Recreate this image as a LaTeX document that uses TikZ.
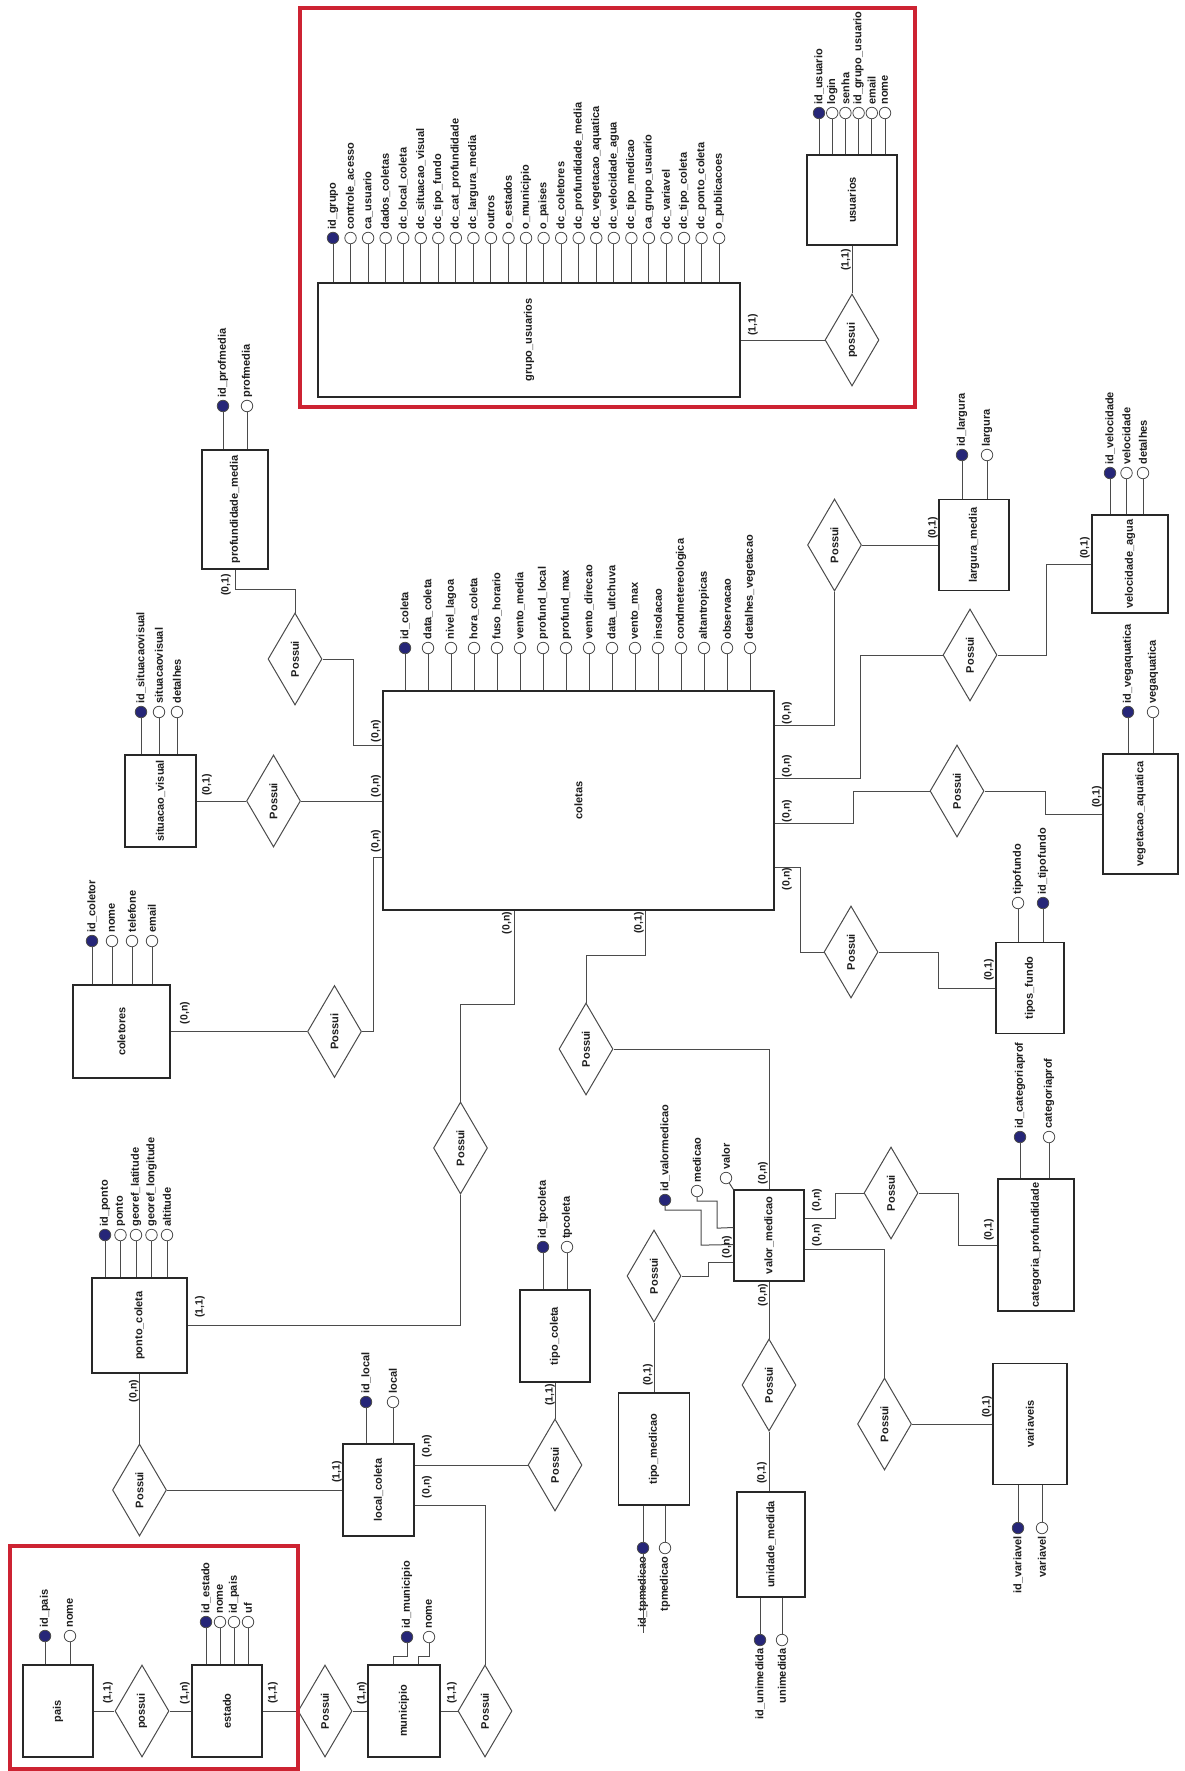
\documentclass[tikz,border=0pt]{standalone}
\usepackage{fontspec}
\setmainfont{Liberation Sans}
\usepackage{graphicx}
\usetikzlibrary{shapes.geometric,positioning,calc}
\definecolor{linecol}{RGB}{75,75,75}
\definecolor{boxcol}{RGB}{40,40,40}
\definecolor{pkcol}{RGB}{38,38,120}
\definecolor{hlred}{RGB}{205,35,50}
\definecolor{txtcol}{RGB}{30,30,30}

\begin{document}
\begin{tikzpicture}[
  x=1pt, y=-1pt,
  font=\bfseries\fontsize{11}{13}\selectfont,
  text=txtcol,
  ent/.style={rectangle, draw=boxcol, line width=1.5pt, fill=white, inner sep=0pt},
  rel/.style={diamond, draw=linecol, line width=1pt, fill=white, aspect=0.6, inner sep=0pt, minimum width=54, minimum height=92},
  attr/.style={circle, draw=linecol, line width=0.8pt, fill=#1, minimum size=11.5, inner sep=0pt},
  attr/.default=white,
  aup/.style={rotate=90, anchor=west, inner sep=0pt},
  adn/.style={rotate=90, anchor=east, inner sep=0pt},
  card/.style={rotate=90, inner sep=0pt, font=\bfseries\fontsize{10.5}{12}\selectfont},
  conn/.style={draw=linecol, line width=1pt},
  hl/.style={draw=hlred, line width=4pt},
]
\fill[white] (0,0) rectangle (1184,1771);
\useasboundingbox (0,0) rectangle (1184,1771);

% entities
\node[ent, minimum width=422, minimum height=114] (grupo) at (529,340) {\rotatebox{90}{grupo\_usuarios}};
\node[ent, minimum width=90, minimum height=90] (usuarios) at (852,200) {\rotatebox{90}{usuarios}};
\node[ent, minimum width=391, minimum height=219] (coletas) at (578.5,800.5) {\rotatebox{90}{coletas}};
\node[ent, minimum width=66, minimum height=119] (profmedia) at (235,509.5) {\rotatebox{90}{profundidade\_media}};
\node[ent, minimum width=71, minimum height=92] (situacao) at (160.5,801) {\rotatebox{90}{situacao\_visual}};
\node[ent, minimum width=97, minimum height=93] (coletores) at (121.5,1031.5) {\rotatebox{90}{coletores}};
\node[ent, minimum width=95, minimum height=95] (ponto) at (139.5,1325.5) {\rotatebox{90}{ponto\_coleta}};
\node[ent, minimum width=71, minimum height=92] (local) at (378.5,1490) {\rotatebox{90}{local\_coleta}};
\node[ent, minimum width=70, minimum height=92] (tipocoleta) at (555,1336) {\rotatebox{90}{tipo\_coleta}};
\node[ent, minimum width=72, minimum height=92] (municipio) at (404,1711) {\rotatebox{90}{municipio}};
\node[ent, minimum width=70, minimum height=92] (estado) at (227,1711) {\rotatebox{90}{estado}};
\node[ent, minimum width=70, minimum height=92] (pais) at (58,1711) {\rotatebox{90}{pais}};
\node[ent, minimum width=70, minimum height=91] (largura) at (974,545) {\rotatebox{90}{largura\_media}};
\node[ent, minimum width=76, minimum height=98] (velocidade) at (1130,564) {\rotatebox{90}{velocidade\_agua}};
\node[ent, minimum width=75, minimum height=120] (vegetacao) at (1140.5,814) {\rotatebox{90}{vegetacao\_aquatica}};
\node[ent, minimum width=68, minimum height=91] (tiposfundo) at (1030,988) {\rotatebox{90}{tipos\_fundo}};
\node[ent, minimum width=70, minimum height=91] (valor) at (769,1235.5) {\rotatebox{90}{valor\_medicao}};
\node[ent, minimum width=76, minimum height=132] (categoria) at (1036,1245) {\rotatebox{90}{categoria\_profundidade}};
\node[ent, minimum width=71, minimum height=112] (tipomedicao) at (654,1449) {\rotatebox{90}{tipo\_medicao}};
\node[ent, minimum width=68, minimum height=105] (unidade) at (771,1544.5) {\rotatebox{90}{unidade\_medida}};
\node[ent, minimum width=74, minimum height=121] (variaveis) at (1030,1424) {\rotatebox{90}{variaveis}};

% relationships
\node[rel] (relU) at (852,340) {\rotatebox{90}{possui}};
\node[rel] (relPM) at (295,659) {\rotatebox{90}{Possui}};
\node[rel] (relSV) at (273.5,801) {\rotatebox{90}{Possui}};
\node[rel] (relCL) at (334.5,1031.5) {\rotatebox{90}{Possui}};
\node[rel] (relPC) at (460.5,1148) {\rotatebox{90}{Possui}};
\node[rel] (relPL) at (139.5,1490) {\rotatebox{90}{Possui}};
\node[rel] (relTC) at (555,1465) {\rotatebox{90}{Possui}};
\node[rel] (relMU) at (485,1711) {\rotatebox{90}{Possui}};
\node[rel] (relEM) at (325,1711) {\rotatebox{90}{Possui}};
\node[rel] (relPE) at (142,1711) {\rotatebox{90}{possui}};
\node[rel] (relLM) at (834.5,545) {\rotatebox{90}{Possui}};
\node[rel] (relVA) at (970,655) {\rotatebox{90}{Possui}};
\node[rel] (relVG) at (957,791) {\rotatebox{90}{Possui}};
\node[rel] (relTF) at (851,952) {\rotatebox{90}{Possui}};
\node[rel] (relVM) at (586,1049) {\rotatebox{90}{Possui}};
\node[rel] (relTM) at (654,1276) {\rotatebox{90}{Possui}};
\node[rel] (relUM) at (769,1385) {\rotatebox{90}{Possui}};
\node[rel] (relVR) at (884.5,1424) {\rotatebox{90}{Possui}};
\node[rel] (relCP) at (891,1193) {\rotatebox{90}{Possui}};

% connectors
\draw[conn] (grupo) -- (relU) -- (usuarios);
\draw[conn] (profmedia.south) -- ++(0,20) -| (relPM.north);
\draw[conn] (relPM.east) -| ++(31,86) -- ([yshift=55.5]coletas.west);
\draw[conn] (situacao) -- (relSV) -- (relSV -| coletas.west);
\draw[conn] (coletores) -- (relCL);
\draw[conn] (relCL.east) -| ++(11,-174.5) -- ([yshift=-56.5]coletas.west);
\draw[conn] ([xshift=-64.5]coletas.south) -- ++(0,94) -| (relPC.north);
\draw[conn] (relPC.south) |- (ponto.east);
\draw[conn] (ponto) -- (relPL) -- (local);
\draw[conn] ([yshift=25]local.east) -- (relTC.west);
\draw[conn] (relTC) -- (tipocoleta);
\draw[conn] ([yshift=-15]local.east) -| (relMU.north);
\draw[conn] (pais) -- (relPE) -- (estado) -- (relEM) -- (municipio) -- (relMU);
\draw[conn] ([yshift=75.5]coletas.east) -| (relLM.south);
\draw[conn] (relLM) -- (largura);
\draw[conn] ([yshift=22.5]coletas.east) -| ++(86,-123) -- (relVA.west);
\draw[conn] (relVA.east) -| ++(49,-91) -- (velocidade.west);
\draw[conn] ([yshift=-22.5]coletas.east) -| ++(79,-32) -- (relVG.west);
\draw[conn] (relVG.east) -| ++(61,23) -- (vegetacao.west);
\draw[conn] ([yshift=-66.5]coletas.east) -| ++(26,85) -- (relTF.west);
\draw[conn] (relTF.east) -| ++(60,36) -- (tiposfundo.west);
\draw[conn] ([xshift=66.5]coletas.south) -- ++(0,45) -| (relVM.north);
\draw[conn] (relVM.east) -| (valor.north);
\draw[conn] (valor) -- (relUM) -- (relUM |- unidade.north);
\draw[conn] ([yshift=17.5]valor.east) -| ++(31,-25) -- (relCP.west);
\draw[conn] (relCP.east) -| ++(40,52) -- (categoria.west);
\draw[conn] ([yshift=-13.5]valor.east) -| (relVR.north);
\draw[conn] (relVR) -- (variaveis);
\draw[conn] (relTM.east) -| ++(27,-14) -- ([yshift=-26.5]valor.west);
\draw[conn] (relTM) -- (tipomedicao);

% attributes above the boxes
\foreach \nm [count=\i from 0] in {id\_grupo, controle\_acesso, ca\_usuario, dados\_coletas, dc\_local\_coleta, dc\_situacao\_visual, dc\_tipo\_fundo, dc\_cat\_profundidade, dc\_largura\_media, outros, o\_estados, o\_municipio, o\_paises, dc\_coletores, dc\_profundidade\_media, dc\_vegetacao\_aquatica, dc\_velocidade\_agua, dc\_tipo\_medicao, ca\_grupo\_usuario, dc\_variavel, dc\_tipo\_coleta, dc\_ponto\_coleta, o\_publicacoes}{
  \ifnum\i=0 \def\fc{pkcol}\else\def\fc{white}\fi
  \node[attr=\fc] (gr\i) at ({333+17.55*\i},238) {};
  \draw[conn] (gr\i) -- (gr\i |- grupo.north);
  \node[aup] (grt\i) at ([yshift=2]gr\i.north) {\nm};
}
\foreach \nm [count=\i from 0] in {id\_usuario, login, senha, id\_grupo\_usuario, email, nome}{
  \ifnum\i=0 \def\fc{pkcol}\else\def\fc{white}\fi
  \node[attr=\fc] (us\i) at ({819+13.2*\i},113) {};
  \draw[conn] (us\i) -- (us\i |- usuarios.north);
  \node[aup] (ust\i) at ([yshift=2]us\i.north) {\nm};
}
\foreach \nm [count=\i from 0] in {id\_coleta, data\_coleta, nivel\_lagoa, hora\_coleta, fuso\_horario, vento\_media, profund\_local, profund\_max, vento\_direcao, data\_ultchuva, vento\_max, insolacao, condmetereologica, altantropicas, observacao, detalhes\_vegetacao}{
  \ifnum\i=0 \def\fc{pkcol}\else\def\fc{white}\fi
  \node[attr=\fc] (co\i) at ({405+23*\i},648) {};
  \draw[conn] (co\i) -- (co\i |- coletas.north);
  \node[aup] (cot\i) at ([yshift=2]co\i.north) {\nm};
}
\foreach \nm [count=\i from 0] in {id\_profmedia, profmedia}{
  \ifnum\i=0 \def\fc{pkcol}\else\def\fc{white}\fi
  \node[attr=\fc] (pm\i) at ({223+24*\i},406) {};
  \draw[conn] (pm\i) -- (pm\i |- profmedia.north);
  \node[aup] (pmt\i) at ([yshift=2]pm\i.north) {\nm};
}
\foreach \nm [count=\i from 0] in {id\_situacaovisual, situacaovisual, detalhes}{
  \ifnum\i=0 \def\fc{pkcol}\else\def\fc{white}\fi
  \node[attr=\fc] (sv\i) at ({141+18*\i},712) {};
  \draw[conn] (sv\i) -- (sv\i |- situacao.north);
  \node[aup] (svt\i) at ([yshift=2]sv\i.north) {\nm};
}
\foreach \nm [count=\i from 0] in {id\_coletor, nome, telefone, email}{
  \ifnum\i=0 \def\fc{pkcol}\else\def\fc{white}\fi
  \node[attr=\fc] (cl\i) at ({92+20*\i},941) {};
  \draw[conn] (cl\i) -- (cl\i |- coletores.north);
  \node[aup] (clt\i) at ([yshift=2]cl\i.north) {\nm};
}
\foreach \nm [count=\i from 0] in {id\_ponto, ponto, georef\_latitude, georef\_longitude, altitude}{
  \ifnum\i=0 \def\fc{pkcol}\else\def\fc{white}\fi
  \node[attr=\fc] (pc\i) at ({105+15.5*\i},1235) {};
  \draw[conn] (pc\i) -- (pc\i |- ponto.north);
  \node[aup] (pct\i) at ([yshift=2]pc\i.north) {\nm};
}
\foreach \nm [count=\i from 0] in {id\_local, local}{
  \ifnum\i=0 \def\fc{pkcol}\else\def\fc{white}\fi
  \node[attr=\fc] (lc\i) at ({366+27*\i},1402) {};
  \draw[conn] (lc\i) -- (lc\i |- local.north);
  \node[aup] (lct\i) at ([yshift=2]lc\i.north) {\nm};
}
\foreach \nm [count=\i from 0] in {id\_tpcoleta, tpcoleta}{
  \ifnum\i=0 \def\fc{pkcol}\else\def\fc{white}\fi
  \node[attr=\fc] (tc\i) at ({543+24*\i},1247) {};
  \draw[conn] (tc\i) -- (tc\i |- tipocoleta.north);
  \node[aup] (tct\i) at ([yshift=2]tc\i.north) {\nm};
}
\foreach \nm [count=\i from 0] in {id\_municipio, nome}{
  \ifnum\i=0 \def\fc{pkcol}\else\def\fc{white}\fi
  \node[attr=\fc] (mu\i) at ({407+22*\i},1637) {};
  \draw[conn] (mu\i.south) -- ++(0,13) -| ([xshift={-11+25*\i}]municipio.north);
  \node[aup] (mut\i) at ([yshift=2]mu\i.north) {\nm};
}
\foreach \nm [count=\i from 0] in {id\_estado, nome, id\_pais, uf}{
  \ifnum\i=0 \def\fc{pkcol}\else\def\fc{white}\fi
  \node[attr=\fc] (es\i) at ({206+14*\i},1622) {};
  \draw[conn] (es\i) -- (es\i |- estado.north);
  \node[aup] (est\i) at ([yshift=2]es\i.north) {\nm};
}
\foreach \nm [count=\i from 0] in {id\_pais, nome}{
  \ifnum\i=0 \def\fc{pkcol}\else\def\fc{white}\fi
  \node[attr=\fc] (pa\i) at ({45+25*\i},1636) {};
  \draw[conn] (pa\i) -- (pa\i |- pais.north);
  \node[aup] (pat\i) at ([yshift=2]pa\i.north) {\nm};
}
\foreach \nm [count=\i from 0] in {id\_largura, largura}{
  \ifnum\i=0 \def\fc{pkcol}\else\def\fc{white}\fi
  \node[attr=\fc] (lm\i) at ({962+25*\i},455) {};
  \draw[conn] (lm\i) -- (lm\i |- largura.north);
  \node[aup] (lmt\i) at ([yshift=2]lm\i.north) {\nm};
}
\foreach \nm [count=\i from 0] in {id\_velocidade, velocidade, detalhes}{
  \ifnum\i=0 \def\fc{pkcol}\else\def\fc{white}\fi
  \node[attr=\fc] (va\i) at ({1110+16.5*\i},473) {};
  \draw[conn] (va\i) -- (va\i |- velocidade.north);
  \node[aup] (vat\i) at ([yshift=2]va\i.north) {\nm};
}
\foreach \nm [count=\i from 0] in {id\_vegaquatica, vegaquatica}{
  \ifnum\i=0 \def\fc{pkcol}\else\def\fc{white}\fi
  \node[attr=\fc] (vg\i) at ({1128+25*\i},712) {};
  \draw[conn] (vg\i) -- (vg\i |- vegetacao.north);
  \node[aup] (vgt\i) at ([yshift=2]vg\i.north) {\nm};
}
\node[attr] (tf0) at (1018,903) {};
\node[attr=pkcol] (tf1) at (1043,903) {};
\foreach \i/\nm in {0/tipofundo, 1/id\_tipofundo}{
  \draw[conn] (tf\i) -- (tf\i |- tiposfundo.north);
  \node[aup] (tft\i) at ([yshift=2]tf\i.north) {\nm};
}
\foreach \nm [count=\i from 0] in {id\_categoriaprof, categoriaprof}{
  \ifnum\i=0 \def\fc{pkcol}\else\def\fc{white}\fi
  \node[attr=\fc] (cp\i) at ({1020+29*\i},1137) {};
  \draw[conn] (cp\i) -- (cp\i |- categoria.north);
  \node[aup] (cpt\i) at ([yshift=2]cp\i.north) {\nm};
}
% valor_medicao attributes
\node[attr=pkcol] (vm0) at (665,1200) {};
\node[attr] (vm1) at (697,1191) {};
\node[attr] (vm2) at (726,1178) {};
\foreach \i/\nm in {0/id\_valormedicao, 1/medicao, 2/valor}
  \node[aup] (vmt\i) at ([yshift=2]vm\i.north) {\nm};
\draw[conn] (vm0.south) -- ++(0,4) -| ++(36,35) -- ([yshift=-9]valor.west);
\draw[conn] (vm1.south) -- ++(0,4) -| ++(20,27) -- ([yshift=8]valor.west);
\draw[conn] (vm2) -- (valor.north west);

% attributes below the boxes
\foreach \nm [count=\i from 0] in {id\_tpmedicao, tpmedicao}{
  \ifnum\i=0 \def\fc{pkcol}\else\def\fc{white}\fi
  \node[attr=\fc] (tm\i) at ({643+22*\i},1548) {};
  \draw[conn] (tm\i) -- (tm\i |- tipomedicao.south);
  \node[adn] (tmt\i) at ([yshift=-2]tm\i.south) {\nm};
}
\coordinate (tmend) at (643,1633);
\draw[conn] (tm0) -- (tmend);
\foreach \nm [count=\i from 0] in {id\_unimedida, unimedida}{
  \ifnum\i=0 \def\fc{pkcol}\else\def\fc{white}\fi
  \node[attr=\fc] (um\i) at ({760+22*\i},1640) {};
  \draw[conn] (um\i) -- (um\i |- unidade.south);
  \node[adn] (umt\i) at ([yshift=-2]um\i.south) {\nm};
}
\foreach \nm [count=\i from 0] in {id\_variavel, variavel}{
  \ifnum\i=0 \def\fc{pkcol}\else\def\fc{white}\fi
  \node[attr=\fc] (vr\i) at ({1018+24*\i},1528) {};
  \draw[conn] (vr\i) -- (vr\i |- variaveis.south);
  \node[adn] (vrt\i) at ([yshift=-2]vr\i.south) {\nm};
}

% cardinalities
\foreach \x/\y [count=\i] in {376/731, 376/786, 376/841, 185/1013, 507/923, 134/1391, 427/1446, 427/1487, 787/713, 787/766, 787/811, 787/879, 763/1173, 817/1200, 817/1235, 727/1247, 763/1295}
  \node[card] (kon\i) at (\x,\y) {(0,n)};
\foreach \x/\y [count=\i] in {226/585, 207/785, 639/923, 933/528, 1085/548, 1097/797, 989/970, 648/1375, 762/1473, 987/1407, 989/1230}
  \node[card] (koi\i) at (\x,\y) {(0,1)};
\foreach \x/\y [count=\i] in {753/325, 846/260, 200/1307, 337/1472, 550/1395, 452/1693, 273/1693, 108/1693}
  \node[card] (kii\i) at (\x,\y) {(1,1)};
\foreach \x/\y [count=\i] in {362/1693, 185/1693}
  \node[card] (kin\i) at (\x,\y) {(1,n)};

% highlight frames
\draw[hl] (300,8) rectangle (915,407);
\draw[hl] (10,1546) rectangle (298,1769);
\end{tikzpicture}
\end{document}
